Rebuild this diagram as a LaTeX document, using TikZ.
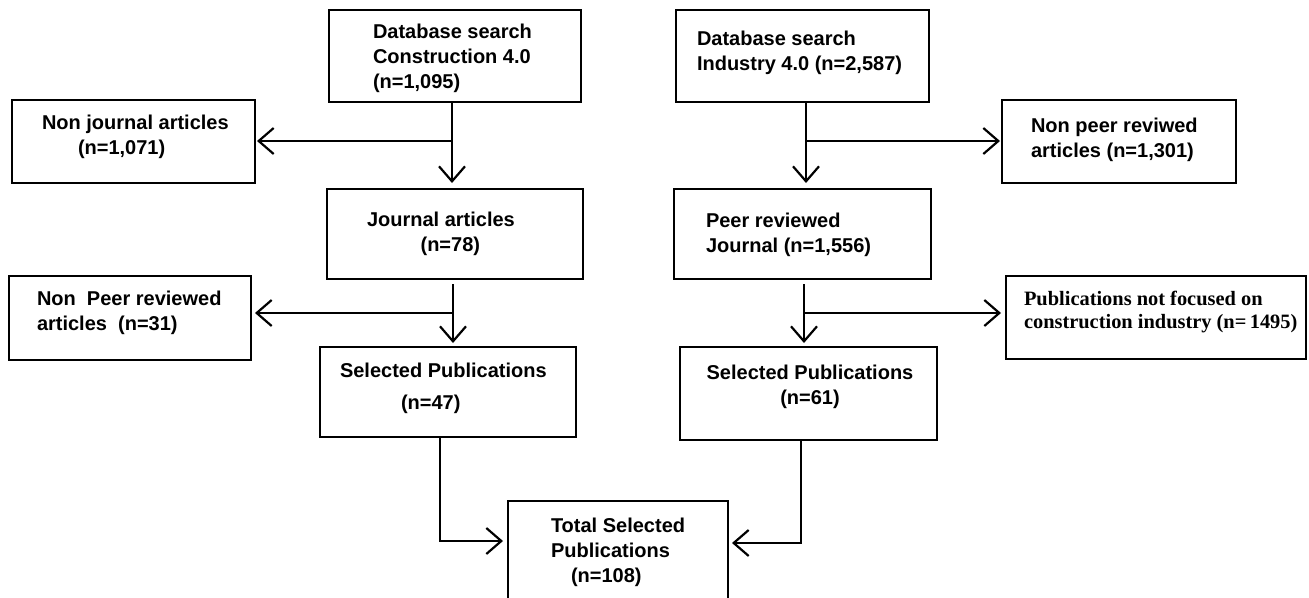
\documentclass[tikz,border=0pt]{standalone}
\usepackage{fontspec}
\setmainfont{Liberation Sans}
\newfontfamily\tnr{Liberation Serif}
\usetikzlibrary{arrows.meta}
\tikzset{
  box/.style={draw, line width=2.4pt, inner sep=0pt, outer sep=0pt, fill=white},
  txt/.style={inner sep=0pt, outer sep=0pt, align=left, anchor=west, font=\fontsize{20}{25}\selectfont\bfseries},
  txtc/.style={txt, align=center},
  ptxt/.style={inner sep=0pt, outer sep=0pt, align=left, anchor=west, font=\fontsize{20.4}{22.5}\selectfont\tnr\bfseries},
  arr/.style={line width=2.2pt, -{Straight Barb[length=15pt, width=26pt, line width=2.2pt]}},
  ln/.style={line width=2.2pt}
}
\newcommand{\bx}[5]{\node[box, minimum width=#4-#2, minimum height=#5-#3] (#1) at ({(#2+#4)/2},{(#3+#5)/2}) {};}
\begin{document}
\begin{tikzpicture}[x=1pt,y=-1pt]
\useasboundingbox (0,0) rectangle (1309,597);
\fill[white] (0,0) rectangle (1309,597);
\clip (0,0) rectangle (1309,597);
% boxes
\bx{A}{329}{10}{581}{102}
\bx{B}{676}{10}{929}{102}
\bx{NJ}{12}{100}{255}{183}
\bx{NPR}{1002}{100}{1236}{183}
\bx{JA}{327}{189}{583}{279}
\bx{PR}{674}{189}{931}{279}
\bx{NP}{9}{276}{251}{360}
\bx{PNF}{1006}{276}{1306}{359}
\bx{SPa}{320}{347}{576}{437}
\bx{SPb}{680}{347}{937}{440}
\bx{TOT}{508}{501}{728}{612}
% texts
\node[txt] (tA) at (373,58) {Database search\\Construction 4.0\\(n=1,095)};
\node[txt] (tB) at (697,52.5) {Database search\\Industry 4.0 (n=2,587)};
\node[txt] (tNJ) at (42,137) {Non journal articles\\\hspace*{36pt}(n=1,071)};
\node[txt] (tNPR) at (1031,140) {Non peer reviwed\\articles (n=1,301)};
\node[txt] (tJA) at (367,233.5) {Journal articles\\\hspace*{53.6pt}(n=78)};
\node[txt] (tPR) at (706,234.5) {Peer reviewed\\Journal (n=1,556)};
\node[txt] (tNP) at (37,312.5) {Non\ \ Peer reviewed\\articles\ \ (n=31)};
\node[ptxt] (tPNF) at (1024,312) {Publications not focused on\\construction industry (n=\,1495)};
\node[txt] (tSPa) at (340,388) {Selected Publications\\[7pt]\hspace*{61pt}(n=47)};
\node[txtc, anchor=center] (tSPb) at (810,386.5) {Selected Publications\\(n=61)};
\node[txt] (tTOT) at (551,552.5) {Total Selected\\Publications\\\hspace*{20pt}(n=108)};
% branch coordinates
\coordinate (ca) at (452,141);
\coordinate (cb) at (806,141);
\coordinate (cc) at (453,313);
\coordinate (cd) at (804,313);
\coordinate (ce) at (440,541);
\coordinate (cf) at (801,543);
% connectors
\draw[arr, shorten >=6pt] (A.south -| ca) -- (JA.north -| ca);
\draw[arr, shorten >=2pt] (ca) -- (NJ.east |- ca);
\draw[arr, shorten >=6pt] (B.south -| cb) -- (PR.north -| cb);
\draw[arr, shorten >=2pt] (cb) -- (NPR.west |- cb);
\draw[arr, shorten <=5pt, shorten >=4pt] (JA.south -| cc) -- (SPa.north -| cc);
\draw[arr, shorten >=4pt] (cc) -- (NP.east |- cc);
\draw[arr, shorten <=5pt, shorten >=4pt] (PR.south -| cd) -- (SPb.north -| cd);
\draw[arr, shorten >=5pt] (cd) -- (PNF.west |- cd);
\draw[arr, shorten >=5pt] (SPa.south -| ce) -- (ce) -- (TOT.west |- ce);
\draw[arr, shorten >=4pt] (SPb.south -| cf) -- (cf) -- (TOT.east |- cf);
\end{tikzpicture}
\end{document}
